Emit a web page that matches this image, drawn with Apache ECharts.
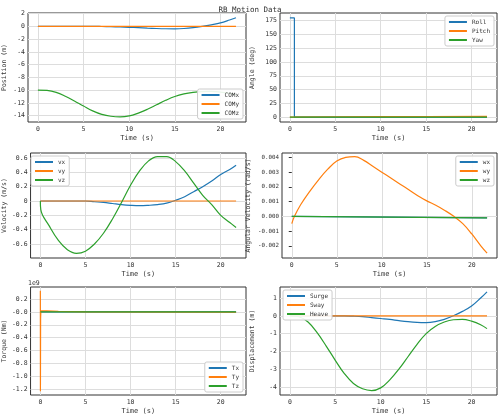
<!DOCTYPE html>
<html><head><meta charset="utf-8">
<script src="https://cdn.jsdelivr.net/npm/echarts@6/dist/echarts.min.js"></script>
<style>html,body{margin:0;padding:0;background:#fff}#c{width:500px;height:416px}</style>
</head><body><div id="c"></div>
<script>
const T = [0,1,2,3,4,5,6,7,8,9,10,11,12,13,14,15,16,17,18,19,20,21,21.7];
const surge = [0,0,0,0,0,0,0,-0.02,-0.05,-0.1,-0.15,-0.2,-0.27,-0.33,-0.37,-0.38,-0.33,-0.2,0,0.25,0.55,1.0,1.35];
const sway = [0,0,0,0,0,0,0,0,0,0,0,0,0,0,0,0,0,0,0,0,0,0,0];
const heave = [0,-0.05,-0.35,-0.95,-1.7,-2.5,-3.25,-3.8,-4.1,-4.2,-4.05,-3.6,-3.0,-2.3,-1.6,-1.0,-0.6,-0.35,-0.22,-0.2,-0.3,-0.5,-0.72];
const comX = surge;
const comY = sway;
const comZ = heave.map(v => v - 10);
const vx = [0,0,0,0,0,0,-0.01,-0.02,-0.035,-0.05,-0.06,-0.065,-0.06,-0.05,-0.03,0.01,0.06,0.13,0.2,0.28,0.37,0.44,0.5];
const vy = sway;
const vzT = [0,0.05,1,2,3,4,5,6,7,8,9,10,11,12,13,14,15,16,17,18,19,20,21,21.7];
const vz = [0,-0.12,-0.35,-0.55,-0.68,-0.73,-0.7,-0.6,-0.45,-0.25,-0.02,0.22,0.42,0.56,0.62,0.62,0.55,0.42,0.25,0.08,-0.05,-0.2,-0.3,-0.37];
const wyT = [0,0.3,1,2,3,4,5,6,7,8,9,10,11,12,13,14,15,16,17,18,19,20,21,21.7];
const wy = [-0.0005,0,0.0008,0.0017,0.0025,0.0032,0.00375,0.004,0.00405,0.0038,0.0034,0.003,0.0026,0.0022,0.0018,0.0014,0.00105,0.00075,0.0004,0,-0.0005,-0.0012,-0.002,-0.0025];
const wxT = [0,21.7];
const wx = [0,-0.0001];
const wz = [0,-0.0001];
const rollT = [0,0.5,0.5,21.7];
const roll = [180,180,0,0];
const pitchT = [0,5,10,15,21.7];
const pitch = [0,0.5,0.8,1.0,1.2];
const yaw = [0,0,0,0,0];
const tqT = [0,0.01,0.03,0.06,0.1,2,5,21.7];
const ty = [0.33,-1.23,-0.1,0.02,0.02,0.01,0,-0.005];
const tx = [0,0,0,0,0,0,0,0];
const tz = [0,0,0,0,0,0,0,0];
const xTicks = [0,5,10,15,20];

const C = ['#1f77b4','#ff7f0e','#2ca02c'];
const F = 'DejaVu Sans Mono';
const pair = (t, v) => t.map((x, i) => [x, v[i]]);
const panels = [
  {l:28,t:13,w:218,h:109,ymin:-15,ymax:2.1,yi:2,name:'Position (m)',leg:'br',s:[['COMx',T,comX],['COMy',T,comY],['COMz',T,comZ]]},
  {l:280,t:13,w:217,h:109,ymin:-9,ymax:189,yi:25,name:'Angle (deg)',leg:'tr',s:[['Roll',rollT,roll],['Pitch',pitchT,pitch],['Yaw',pitchT,yaw]],step:true},
  {l:28,t:153,w:218,h:105,ymin:-0.795,ymax:0.67,yi:0.2,name:'Velocity (m/s)',leg:'tl',s:[['vx',T,vx],['vy',T,vy],['vz',vzT,vz]]},
  {l:282,t:153,w:215,h:105,ymin:-0.00283,ymax:0.0043,yi:0.001,name:'Angular Velocity (rad/s)',leg:'tr',s:[['wx',wxT,wx],['wy',wyT,wy],['wz',wxT,wz]],fmt:v=>v.toFixed(3)},
  {l:28,t:287,w:218,h:108,ymin:-1.29,ymax:0.387,yi:0.2,name:'Torque (Nm)',leg:'br',s:[['Tx',tqT,tx],['Ty',tqT,ty],['Tz',tqT,tz]],fmt:v=>v.toFixed(1)},
  {l:280,t:287,w:217,h:108,ymin:-4.45,ymax:1.62,yi:1,name:'Displacement (m)',leg:'tl',s:[['Surge',T,surge],['Sway',T,sway],['Heave',T,heave]]}
];
const grid=[],xAxis=[],yAxis=[],series=[],legend=[];
panels.forEach((p,i)=>{
  grid.push({left:p.l,top:p.t,width:p.w,height:p.h,show:true,borderColor:'#333',borderWidth:1,backgroundColor:'#fff'});
  xAxis.push({type:'value',gridIndex:i,min:-1.085,max:22.8,name:'Time (s)',nameLocation:'middle',nameGap:13,
    nameTextStyle:{fontFamily:F,fontSize:7,color:'#333'},
    axisLabel:{fontFamily:F,fontSize:6.5,color:'#333',margin:4,customValues:xTicks},
    axisTick:{customValues:xTicks,length:3,lineStyle:{color:'#333'}},
    axisLine:{show:false},splitLine:{show:false}});
  const mn=Math.ceil(p.ymin/p.yi-1e-9)*p.yi;
  const ticks=[];for(let v=mn;v<=p.ymax+1e-12;v+=p.yi)ticks.push(+v.toPrecision(10));
  yAxis.push({type:'value',gridIndex:i,min:p.ymin,max:p.ymax,name:p.name,nameLocation:'middle',nameRotate:90,nameGap:i===3?30:(i%2?24:20),
    nameTextStyle:{fontFamily:F,fontSize:6.5,color:'#333'},
    axisLabel:{fontFamily:F,fontSize:i===3?5.8:6.5,color:'#333',margin:3,customValues:ticks,formatter:p.fmt||(v=>String(+v.toFixed(4)))},
    axisTick:{customValues:ticks,length:3,lineStyle:{color:'#333'}},
    axisLine:{show:false},splitLine:{show:false}});
  const lg={gridIndex:i,orient:'vertical',data:p.s.map(s=>s[0]),borderColor:'#ccc',borderWidth:1,borderRadius:2,backgroundColor:'rgba(255,255,255,0.9)',
    padding:[3,4],itemGap:3,itemWidth:18,itemHeight:2,icon:'rect',textStyle:{fontFamily:F,fontSize:6,color:'#333'}};
  if(p.leg[0]==='t')lg.top=p.t+3;else lg.bottom=416-(p.t+p.h)+3;
  if(p.leg[1]==='l')lg.left=p.l+3;else lg.right=500-(p.l+p.w)+3;
  legend.push(lg);
  p.s.forEach((s,k)=>{
    const ser={name:s[0],type:'line',xAxisIndex:i,yAxisIndex:i,data:pair(s[1],s[2]),smooth:!p.step&&i!==4?0.4:false,showSymbol:false,
      lineStyle:{color:C[k],width:1.2},itemStyle:{color:C[k]},z:3};
    if(k===0){ser.markLine={silent:true,symbol:'none',label:{show:false},lineStyle:{color:'#ddd',type:'solid',width:1},
      data:ticks.map(v=>({yAxis:v})).concat(xTicks.map(v=>({xAxis:v}))),z:1};}
    series.push(ser);
  });
});
const chart=echarts.init(document.getElementById('c'),null,{renderer:'canvas'});
chart.setOption({animation:false,backgroundColor:'#fff',
  title:{text:'RB Motion Data',left:'center',top:1,textStyle:{fontFamily:F,fontSize:7.5,fontWeight:'normal',color:'#333'}},
  grid,xAxis,yAxis,series,legend,
  graphic:[{type:'text',left:28,top:280,style:{text:'1e9',fontFamily:F,fontSize:6.5,fill:'#333'}}]
});
</script></body></html>
